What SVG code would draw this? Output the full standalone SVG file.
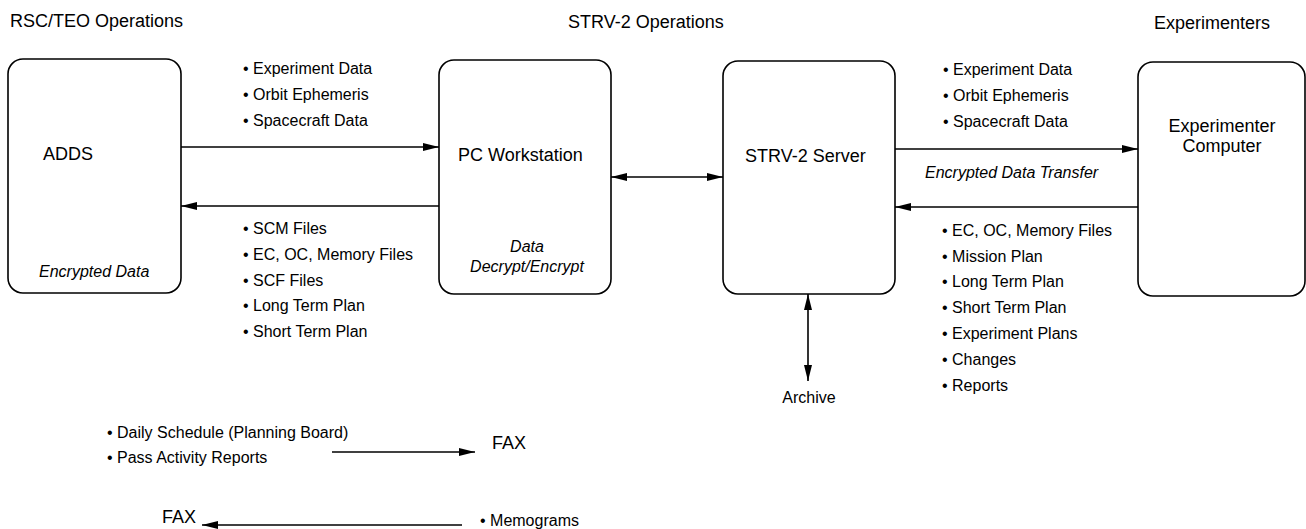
<svg xmlns="http://www.w3.org/2000/svg" width="1306" height="529" viewBox="0 0 1306 529">
<style>
text{font-family:"Liberation Sans",Arial,sans-serif;fill:#000}
.h{font-size:18px}
.n{font-size:18px}
.b{font-size:16px}
.i{font-size:16px;font-style:italic}
.box{fill:#fff;stroke:#000;stroke-width:1.6}
.c{fill:none;stroke:#000;stroke-width:1.6}
</style>
<defs>
<marker id="ah" markerUnits="userSpaceOnUse" markerWidth="18" markerHeight="10" refX="16" refY="4" orient="auto-start-reverse">
<path d="M0,0 L16,4 L0,8 z" fill="#000"/>
</marker>
</defs>
<rect width="1306" height="529" fill="#fff"/>
<g id="headers">
<text class="h" x="10" y="27">RSC/TEO Operations</text>
<text class="h" x="568" y="28">STRV-2 Operations</text>
<text class="h" x="1154" y="29">Experimenters</text>
</g>
<g id="adds">
<rect class="box" x="8" y="59" width="173" height="234" rx="15"/>
<text class="n" x="43" y="160">ADDS</text>
<text class="i" x="39" y="277">Encrypted Data</text>
</g>
<g id="pc">
<rect class="box" x="439" y="60" width="172" height="234" rx="15"/>
<text class="n" x="458" y="161">PC Workstation</text>
<text class="i" x="527" y="252" text-anchor="middle">Data</text>
<text class="i" x="527" y="272" text-anchor="middle">Decrypt/Encrypt</text>
</g>
<g id="server">
<rect class="box" x="723" y="61" width="172" height="233" rx="15"/>
<text class="n" x="745" y="162">STRV-2 Server</text>
</g>
<g id="experimenter">
<rect class="box" x="1138" y="62" width="167" height="234" rx="15"/>
<text class="n" x="1222" y="132" text-anchor="middle">Experimenter</text>
<text class="n" x="1222" y="152" text-anchor="middle">Computer</text>
</g>
<g id="archive">
<text class="b" x="809" y="403" text-anchor="middle">Archive</text>
</g>
<g id="connectors">
<line class="c" x1="181" y1="147" x2="439" y2="147" marker-end="url(#ah)"/>
<line class="c" x1="439" y1="206" x2="181" y2="206" marker-end="url(#ah)"/>
<line class="c" x1="611" y1="177" x2="723" y2="177" marker-start="url(#ah)" marker-end="url(#ah)"/>
<line class="c" x1="895" y1="149" x2="1138" y2="149" marker-end="url(#ah)"/>
<line class="c" x1="1138" y1="207" x2="895" y2="207" marker-end="url(#ah)"/>
<line class="c" x1="808" y1="294" x2="808" y2="381" marker-start="url(#ah)" marker-end="url(#ah)"/>
<line class="c" x1="332" y1="452" x2="475" y2="452" marker-end="url(#ah)"/>
<line class="c" x1="462" y1="525" x2="202" y2="525" marker-end="url(#ah)"/>
</g>
<g id="labels">
<text class="b" x="243" y="74">• Experiment Data</text>
<text class="b" x="243" y="100">• Orbit Ephemeris</text>
<text class="b" x="243" y="126">• Spacecraft Data</text>
<text class="b" x="243" y="234">• SCM Files</text>
<text class="b" x="243" y="260">• EC, OC, Memory Files</text>
<text class="b" x="243" y="286">• SCF Files</text>
<text class="b" x="243" y="311">• Long Term Plan</text>
<text class="b" x="243" y="337">• Short Term Plan</text>
<text class="b" x="943" y="75">• Experiment Data</text>
<text class="b" x="943" y="101">• Orbit Ephemeris</text>
<text class="b" x="943" y="127">• Spacecraft Data</text>
<text class="i" x="925" y="178">Encrypted Data Transfer</text>
<text class="b" x="942" y="236">• EC, OC, Memory Files</text>
<text class="b" x="942" y="262">• Mission Plan</text>
<text class="b" x="942" y="287">• Long Term Plan</text>
<text class="b" x="942" y="313">• Short Term Plan</text>
<text class="b" x="942" y="339">• Experiment Plans</text>
<text class="b" x="942" y="365">• Changes</text>
<text class="b" x="942" y="391">• Reports</text>
<text class="b" x="107" y="438">• Daily Schedule (Planning Board)</text>
<text class="b" x="107" y="463">• Pass Activity Reports</text>
<text class="n" x="492" y="449">FAX</text>
<text class="n" x="162" y="523">FAX</text>
<text class="b" x="480" y="526">• Memograms</text>
</g>
</svg>
